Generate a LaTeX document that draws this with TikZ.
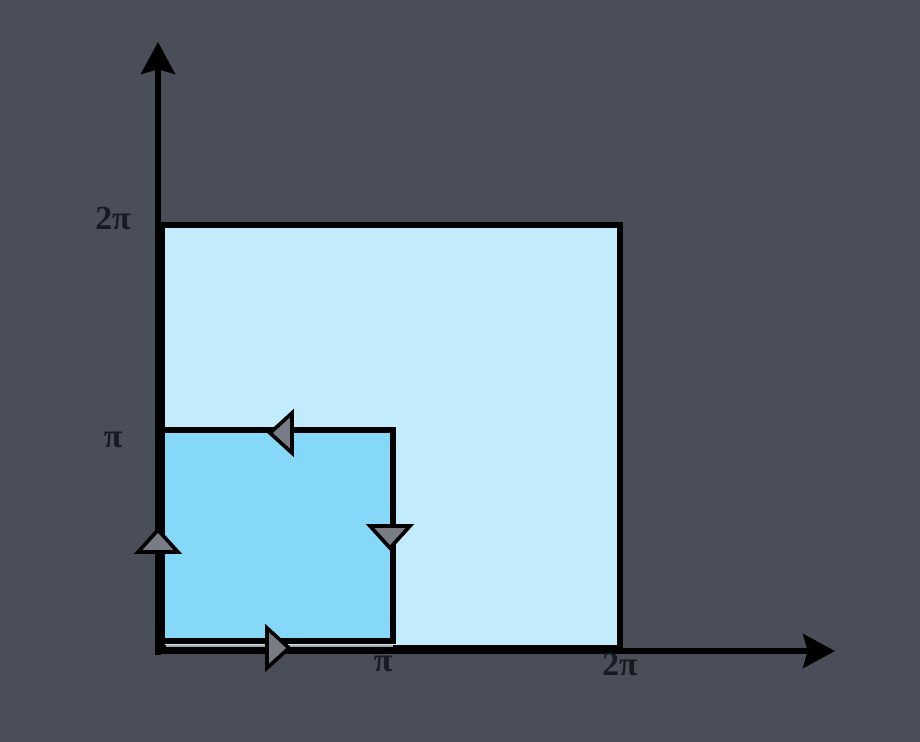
\documentclass[tikz,border=0pt]{standalone}
\usepackage{fontspec}
\setmainfont{Liberation Serif}
\usepackage{tikz}
\usetikzlibrary{arrows.meta}
\definecolor{slate}{RGB}{74,78,88}
\definecolor{paleblue}{RGB}{194,236,251}
\definecolor{midblue}{RGB}{134,216,249}
\definecolor{labelink}{RGB}{25,25,35}
\definecolor{tipgray}{RGB}{120,124,132}
\definecolor{seamgray}{RGB}{165,170,176}

\tikzset{
  border/.style={draw=black, line width=3.8pt},
  axis/.style={black, line width=3.8pt, -{Stealth[length=0.8cm, width=0.85cm, inset=0.12cm]}},
  ticklabel/.style={text=labelink, font=\fontsize{24}{28}\selectfont\bfseries},
  dirmark/.pic={\filldraw[fill=tipgray, draw=black, line width=2.6pt, line join=miter]
      (11,0) -- (-11,-20) -- (-11,20) -- cycle;}
}

\begin{document}
\begin{tikzpicture}[x=0.025cm, y=-0.025cm]
  % background
  \fill[slate] (0,0) rectangle (920,742);

  % squares
  \filldraw[fill=paleblue, border] (162,225) rectangle (620,648);
  \filldraw[fill=midblue, border] (162,430) rectangle (393,641);
  \draw[seamgray, line width=1.6pt] (166,646) -- (393,646);

  % axes
  \coordinate (origin) at (158,651);
  \coordinate (xend) at (835,651);
  \coordinate (yend) at (158,42);
  \draw[axis] (origin) -- (xend);
  \draw[axis] ([yshift=-3pt]origin) -- (yend);

  % direction marks on the small square
  \pic[rotate=180] (topmark) at (281,433) {dirmark};
  \pic[rotate=-90] (rightmark) at (390,537) {dirmark};
  \pic[rotate=90] (leftmark) at (158,541) {dirmark};
  \pic (bottommark) at (278,648) {dirmark};

  % tick labels
  \node[ticklabel] (ytwopi) at (113,218) {2π};
  \node[ticklabel] (ypi) at (113,440) {π};
  \node[ticklabel] (xpi) at (383,664) {π};
  \node[ticklabel] (xtwopi) at (620,664) {2π};
\end{tikzpicture}
\end{document}
